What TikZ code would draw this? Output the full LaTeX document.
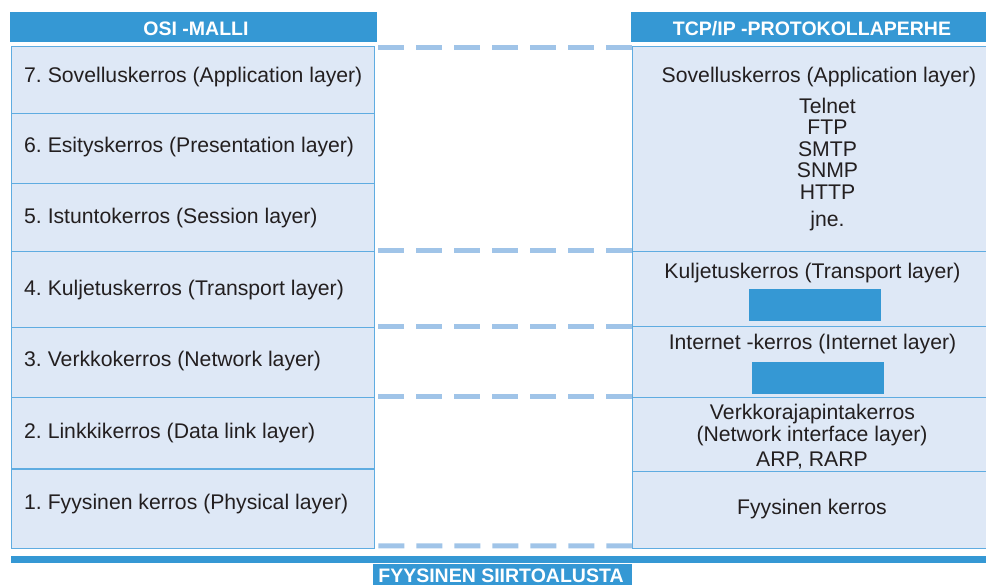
\documentclass[tikz,border=0pt]{standalone}
\usepackage{fontspec}
\setmainfont{Liberation Sans}
\frenchspacing
\definecolor{headblue}{RGB}{53,152,212}
\definecolor{fillblue}{RGB}{222,232,246}
\definecolor{borderblue}{RGB}{95,172,225}
\definecolor{dashblue}{RGB}{160,196,232}
\definecolor{textcol}{RGB}{35,31,32}
\begin{document}
\begin{tikzpicture}[x=1pt,y=-1pt,
  row/.style={draw=borderblue, line width=1.3pt, fill=fillblue, inner sep=0pt, anchor=north west},
  headbox/.style={fill=headblue, inner sep=0pt, anchor=north west},
  lbl/.style={text=textcol, font=\fontsize{21.2}{25}\selectfont, inner sep=0pt},
  htxt/.style={text=white, font=\fontsize{19.5}{23}\selectfont\bfseries, inner sep=0pt, anchor=base},
  dashline/.style={draw=dashblue, line width=5pt, dash pattern=on 26pt off 12pt},
  chip/.style={fill=headblue, inner sep=0pt, anchor=north west}]
\useasboundingbox (0,0) rectangle (986,585);
\clip (0,0) rectangle (986,585);

% headers
\node[headbox, minimum width=367pt, minimum height=30pt] (HL) at (10,11.7) {};
\node[headbox, minimum width=360pt, minimum height=30pt] (HR) at (631,11.7) {};
\node[htxt] (HLt) at (196,35.7) {OSI -MALLI};
\node[htxt] (HRt) at (812,35.7) {TCP/IP -PROTOKOLLAPERHE};

% left rows
\node[row, minimum width=363pt, minimum height=66.7pt] (L7) at (11,46) {};
\node[row, minimum width=363pt, minimum height=70.3pt] (L6) at (11,112.7) {};
\node[row, minimum width=363pt, minimum height=68pt] (L5) at (11,183) {};
\node[row, minimum width=363pt, minimum height=76pt] (L4) at (11,251) {};
\node[row, minimum width=363pt, minimum height=70pt] (L3) at (11,327) {};
\node[row, minimum width=363pt, minimum height=71.3pt] (L2) at (11,397) {};
\node[row, minimum width=363pt, minimum height=79.7pt] (L1) at (11,468.3) {};

% right rows
\node[row, minimum width=360pt, minimum height=205pt] (RA) at (632,46) {};
\node[row, minimum width=360pt, minimum height=75pt] (RT) at (632,251) {};
\node[row, minimum width=360pt, minimum height=71pt] (RI) at (632,326) {};
\node[row, minimum width=360pt, minimum height=74pt] (RN) at (632,397) {};
\node[row, minimum width=360pt, minimum height=77pt] (RP) at (632,471) {};

% dashed correspondences
\draw[dashline] ([xshift=3pt,yshift=-2pt]L7.north east) -- ([yshift=-2pt]RA.north west);
\draw[dashline] ([xshift=3pt]L4.north east) -- (RT.north west);
\draw[dashline] ([xshift=3pt]L3.north east) -- ([yshift=-1pt]RI.north west);
\draw[dashline] ([xshift=3pt]L2.north east) -- (RN.north west);
\draw[dashline] ([xshift=3pt,yshift=3.5pt]L1.south east) -- ([yshift=3.5pt]RP.south west);

% chips
\node[chip, minimum width=132pt, minimum height=31.7pt] (CT) at (749,289) {};
\node[chip, minimum width=132pt, minimum height=31.7pt] (CI) at (752,362) {};

% bottom bar and label
\node[headbox, minimum width=979pt, minimum height=7pt] (bar) at (11,556) {};
\node[headbox, minimum width=259pt, minimum height=30pt] (FS) at (373,564) {};
\node[htxt] (FSt) at (501,582.5) {FYYSINEN SIIRTOALUSTA};

% left labels
\node[lbl, anchor=base west] (t7) at (24,82.7) {7. Sovelluskerros (Application layer)};
\node[lbl, anchor=base west] (t6) at (24,153) {6. Esityskerros (Presentation layer)};
\node[lbl, anchor=base west] (t5) at (24,224) {5. Istuntokerros (Session layer)};
\node[lbl, anchor=base west] (t4) at (24,296) {4. Kuljetuskerros (Transport layer)};
\node[lbl, anchor=base west] (t3) at (24,366.7) {3. Verkkokerros (Network layer)};
\node[lbl, anchor=base west] (t2) at (24,438.3) {2. Linkkikerros (Data link layer)};
\node[lbl, anchor=base west] (t1) at (24,509) {1. Fyysinen kerros (Physical layer)};

% right labels
\node[lbl, anchor=base] (ra) at (819,83) {Sovelluskerros (Application layer)};
\node[lbl, anchor=base] (p1) at (827.5,114) {Telnet};
\node[lbl, anchor=base] (p2) at (827.5,135) {FTP};
\node[lbl, anchor=base] (p3) at (827.5,157) {SMTP};
\node[lbl, anchor=base] (p4) at (827.5,178) {SNMP};
\node[lbl, anchor=base] (p5) at (827.5,200) {HTTP};
\node[lbl, anchor=base] (p6) at (827.5,227) {jne.};
\node[lbl, anchor=base] (rt) at (812.5,279) {Kuljetuskerros (Transport layer)};
\node[lbl, anchor=base] (ri) at (812.5,350) {Internet -kerros (Internet layer)};
\node[lbl, anchor=base] (rn1) at (812.5,420) {Verkkorajapintakerros};
\node[lbl, anchor=base] (rn2) at (812,441.7) {(Network interface layer)};
\node[lbl, anchor=base] (rn3) at (812,466) {ARP, RARP};
\node[lbl, anchor=base] (rp) at (812,514) {Fyysinen kerros};
\end{tikzpicture}
\end{document}
